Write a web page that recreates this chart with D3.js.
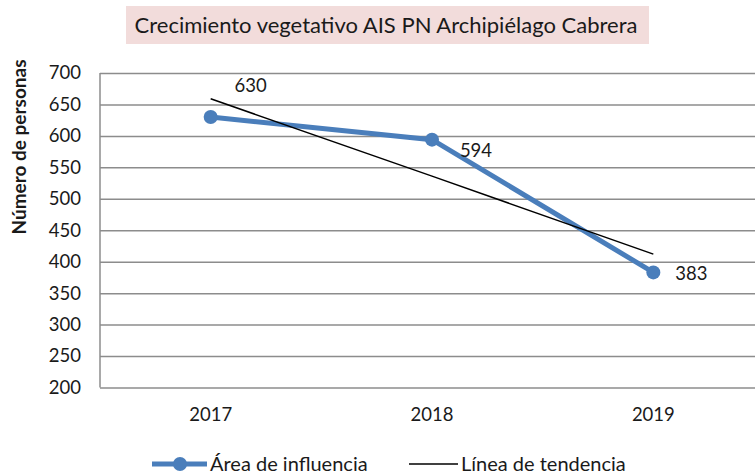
<!DOCTYPE html>
<html>
<head>
<meta charset="utf-8">
<script src="https://cdn.jsdelivr.net/npm/d3@7"></script>
<style>
  body { margin: 0; background: #fff; }
  svg { font-family: Lato, "Open Sans", sans-serif; }
</style>
</head>
<body>
<svg id="chart"></svg>
<script>
const years = ["2017", "2018", "2019"];
const personas = [630, 594, 383];
// trend line (start / middle / end)
const tendencia = [659, 536, 412];
const yTicks = [200, 250, 300, 350, 400, 450, 500, 550, 600, 650, 700];
const labelOffsets = [[40, -25], [44, 17], [38, 8]];

const W = 755, H = 474;
const plot = { left: 100, top: 73, right: 764, bottom: 387.5 };
const numSize = 18.5;

const svg = d3.select("#chart")
    .attr("width", W)
    .attr("height", H);

const x = d3.scaleBand()
    .domain(years)
    .range([plot.left, plot.right]);

const y = d3.scaleLinear()
    .domain([200, 700])
    .range([plot.bottom, plot.top]);

const cx = d => x(d) + x.bandwidth() / 2;

// title
svg.append("rect")
    .attr("x", 126).attr("y", 6)
    .attr("width", 523).attr("height", 38)
    .attr("fill", "#f2dcdb");

svg.append("text")
    .attr("x", 386).attr("y", 33)
    .attr("text-anchor", "middle")
    .attr("font-size", 22)
    .attr("fill", "#1a1a1a")
    .text("Crecimiento vegetativo AIS PN Archipiélago Cabrera");

// grid
svg.append("g")
    .attr("class", "grid")
    .attr("transform", `translate(${plot.left},0)`)
    .call(d3.axisLeft(y).tickValues(yTicks).tickSize(-(plot.right - plot.left)).tickFormat(""))
    .call(g => g.select(".domain").remove())
    .call(g => g.selectAll("line").attr("stroke", "#8c8c8c").attr("stroke-width", 1.5));

svg.append("line")
    .attr("x1", plot.left).attr("x2", plot.left)
    .attr("y1", plot.top).attr("y2", plot.bottom)
    .attr("stroke", "#8c8c8c").attr("stroke-width", 1.5);

// y axis labels
svg.append("g")
    .attr("transform", `translate(${plot.left},0)`)
    .call(d3.axisLeft(y).tickValues(yTicks).tickSize(0).tickPadding(19))
    .call(g => g.select(".domain").remove())
    .call(g => g.selectAll("text")
        .attr("font-family", "Lato, sans-serif")
        .attr("font-size", numSize)
        .attr("fill", "#1a1a1a"));

// x axis labels
svg.append("g")
    .attr("transform", `translate(0,${plot.bottom})`)
    .call(d3.axisBottom(x).tickSize(0).tickPadding(20))
    .call(g => g.select(".domain").remove())
    .call(g => g.selectAll("text")
        .attr("font-family", "Lato, sans-serif")
        .attr("font-size", numSize)
        .attr("fill", "#1a1a1a"));

svg.append("text")
    .attr("transform", `translate(26,147) rotate(-90)`)
    .attr("text-anchor", "middle")
    .attr("font-size", 19)
    .attr("font-weight", "bold")
    .attr("fill", "#1a1a1a")
    .text("Número de personas");

// series
const line = d3.line()
    .x((d, i) => cx(years[i]))
    .y(d => y(d));

svg.append("path")
    .datum(personas)
    .attr("d", line)
    .attr("fill", "none")
    .attr("stroke", "#4a7ebb")
    .attr("stroke-width", 5);

svg.append("path")
    .datum(tendencia)
    .attr("d", line)
    .attr("fill", "none")
    .attr("stroke", "#000")
    .attr("stroke-width", 1.5);

svg.selectAll(".dot")
    .data(personas)
    .join("circle")
    .attr("class", "dot")
    .attr("cx", (d, i) => cx(years[i]))
    .attr("cy", d => y(d))
    .attr("r", 7)
    .attr("fill", "#4a7ebb");

svg.selectAll(".val")
    .data(personas)
    .join("text")
    .attr("class", "val")
    .attr("x", (d, i) => cx(years[i]) + labelOffsets[i][0])
    .attr("y", (d, i) => y(d) + labelOffsets[i][1])
    .attr("text-anchor", "middle")
    .attr("font-size", numSize)
    .attr("fill", "#1a1a1a")
    .text(d => d);

// legend
const leg = svg.append("g").attr("transform", "translate(0,464)");
leg.append("line")
    .attr("x1", 152).attr("x2", 207)
    .attr("stroke", "#4a7ebb").attr("stroke-width", 5);
leg.append("circle").attr("cx", 180).attr("r", 7).attr("fill", "#4a7ebb");
leg.append("text")
    .attr("x", 210).attr("y", 7)
    .attr("font-size", 20).attr("fill", "#1a1a1a")
    .text("Área de influencia");
leg.append("line")
    .attr("x1", 409).attr("x2", 458)
    .attr("stroke", "#000").attr("stroke-width", 1.5);
leg.append("text")
    .attr("x", 461).attr("y", 7)
    .attr("font-size", 20).attr("fill", "#1a1a1a")
    .text("Línea de tendencia");
</script>
</body>
</html>
